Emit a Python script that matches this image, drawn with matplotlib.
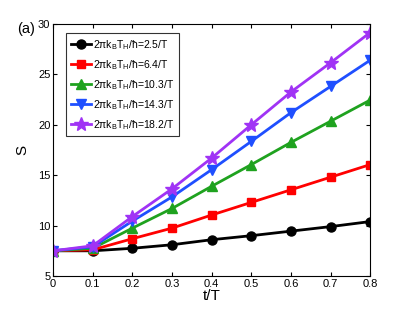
import matplotlib
matplotlib.use("Agg")
import matplotlib.pyplot as plt

plt.rcParams["font.family"] = ["Liberation Sans", "DejaVu Sans"]
plt.rcParams["mathtext.fontset"] = "custom"
plt.rcParams["mathtext.rm"] = "Liberation Sans"
plt.rcParams["mathtext.it"] = "Liberation Sans"
plt.rcParams["mathtext.default"] = "regular"

# data
t = [0, 0.1, 0.2, 0.3, 0.4, 0.5, 0.6, 0.7, 0.8]
s_25 = [7.5, 7.5, 7.75, 8.1, 8.6, 9.0, 9.45, 9.9, 10.4]
s_64 = [7.5, 7.6, 8.7, 9.75, 11.05, 12.3, 13.55, 14.8, 16.05]
s_103 = [7.5, 7.75, 9.75, 11.7, 13.9, 16.05, 18.25, 20.35, 22.45]
s_143 = [7.5, 7.9, 10.45, 12.85, 15.55, 18.35, 21.2, 23.8, 26.4]
s_182 = [7.5, 8.0, 10.9, 13.65, 16.7, 20.0, 23.25, 26.15, 29.15]

labels = ["2.5", "6.4", "10.3", "14.3", "18.2"]
series = [s_25, s_64, s_103, s_143, s_182]
colors = ["black", "#ff0000", "#1fa21f", "#1f4fff", "#a033f5"]
markers = ["o", "s", "^", "v", "*"]
msizes = [6.5, 5.5, 7, 7, 10]

fig = plt.figure(figsize=(4.09, 3.11), dpi=100)
ax = fig.add_axes([0.130, 0.1125, 0.775, 0.8105])

for y, lab, c, m, ms in zip(series, labels, colors, markers, msizes):
    ax.plot(t, y, color=c, marker=m, markersize=ms, linewidth=2,
            label=r"2πk$_B$T$_H$/ħ=" + lab + "/T")

ax.set_xlim(0, 0.8)
ax.set_ylim(5, 30)
ax.set_xticks([0, 0.1, 0.2, 0.3, 0.4, 0.5, 0.6, 0.7, 0.8])
ax.set_xticklabels(["0", "0.1", "0.2", "0.3", "0.4", "0.5", "0.6", "0.7", "0.8"])
ax.set_yticks([5, 10, 15, 20, 25, 30])
ax.tick_params(direction="in", top=True, right=True, labelsize=8, length=3, pad=2)
ax.set_xlabel("t/T", fontsize=11, labelpad=0)
ax.set_ylabel("S", fontsize=11, labelpad=6)

leg = ax.legend(loc="upper left", fontsize=7.5, frameon=True, fancybox=False,
                edgecolor="black", handlelength=1.9, borderpad=0.45,
                labelspacing=0.6, handletextpad=0.25, borderaxespad=0,
                bbox_to_anchor=(0.041, 0.964))
leg.get_frame().set_linewidth(0.8)

fig.text(0.042, 0.894, "(a)", fontsize=10.5)

fig.savefig("out.png", dpi=100)
